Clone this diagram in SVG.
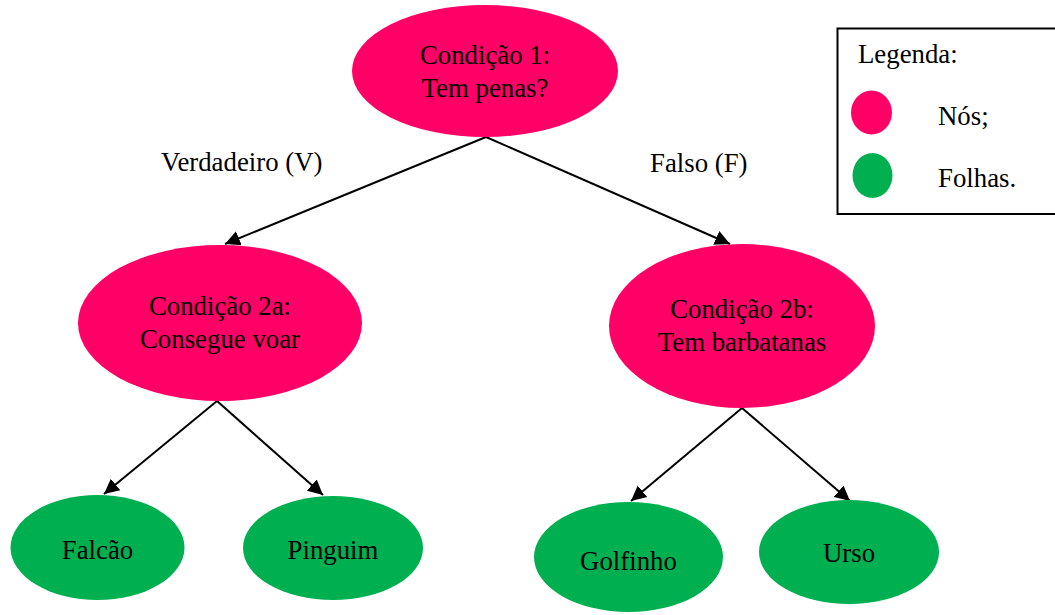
<svg xmlns="http://www.w3.org/2000/svg" width="1055" height="615" viewBox="0 0 1055 615">
<style>
text{font-family:"Liberation Serif","Times New Roman",serif;font-size:26.8px;fill:#000}
.node{fill:#FF0066}
.leaf{fill:#00B050}
.c{text-anchor:middle}
.edge{stroke:#000;stroke-width:2;fill:none;marker-end:url(#arr)}
</style>
<defs>
<marker id="arr" markerUnits="userSpaceOnUse" markerWidth="16" markerHeight="16" viewBox="0 0 16 16" refX="15" refY="8" orient="auto">
<path d="M0,0.5 L15,8 L0,15.5 Z" fill="#000"/>
</marker>
</defs>
<rect width="1055" height="615" fill="#fff"/>
<g id="connectors">
<line class="edge" x1="486" y1="137" x2="225" y2="244"/>
<line class="edge" x1="486" y1="137" x2="730" y2="244"/>
<line class="edge" x1="217" y1="401" x2="104" y2="494"/>
<line class="edge" x1="217" y1="401" x2="323" y2="495"/>
<line class="edge" x1="742" y1="408" x2="631" y2="501"/>
<line class="edge" x1="742" y1="408" x2="850" y2="501"/>
<text x="161" y="171">Verdadeiro (V)</text>
<text x="650" y="172">Falso (F)</text>
</g>
<g id="n1">
<ellipse class="node" cx="485" cy="71" rx="133" ry="66"/>
<text class="c" x="485" y="64">Condição 1:</text>
<text class="c" x="485" y="97">Tem penas?</text>
</g>
<g id="n2a">
<ellipse class="node" cx="220" cy="323" rx="142" ry="78"/>
<text class="c" x="220" y="315">Condição 2a:</text>
<text class="c" x="220" y="348">Consegue voar</text>
</g>
<g id="n2b">
<ellipse class="node" cx="742" cy="326" rx="133" ry="82"/>
<text class="c" x="742" y="318">Condição 2b:</text>
<text class="c" x="742" y="351">Tem barbatanas</text>
</g>
<g id="falcao">
<ellipse class="leaf" cx="97.5" cy="547.5" rx="87" ry="52.5"/>
<text class="c" x="97.5" y="559">Falcão</text>
</g>
<g id="pinguim">
<ellipse class="leaf" cx="333" cy="548" rx="90" ry="52"/>
<text class="c" x="333" y="559">Pinguim</text>
</g>
<g id="golfinho">
<ellipse class="leaf" cx="628.5" cy="557" rx="94.5" ry="55"/>
<text class="c" x="628.5" y="570">Golfinho</text>
</g>
<g id="urso">
<ellipse class="leaf" cx="849" cy="552" rx="90" ry="52"/>
<text class="c" x="849" y="562">Urso</text>
</g>
<g id="legend">
<rect x="837.5" y="28.5" width="220" height="185.5" fill="#fff" stroke="#000" stroke-width="2"/>
<text x="858" y="63">Legenda:</text>
<ellipse class="node" cx="871.5" cy="112.5" rx="20.5" ry="22"/>
<text x="938" y="125">Nós;</text>
<ellipse class="leaf" cx="872.5" cy="175.5" rx="20" ry="22.5"/>
<text x="938" y="187">Folhas.</text>
</g>
</svg>
